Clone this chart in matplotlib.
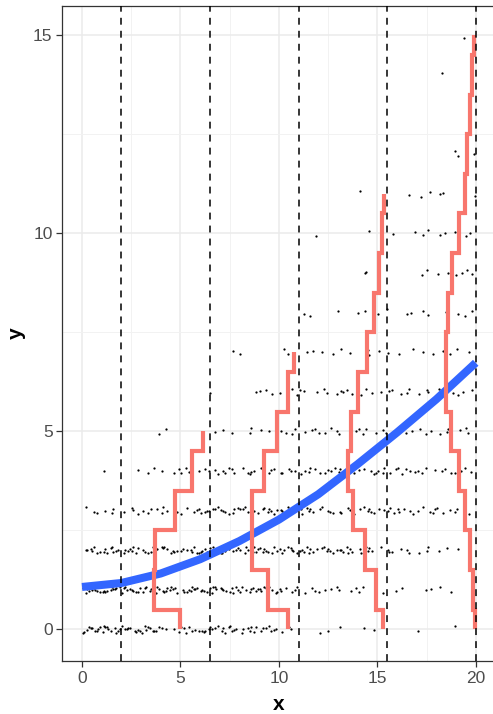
import numpy as np
import matplotlib
matplotlib.use("Agg")
import matplotlib.pyplot as plt

plt.rcParams["font.family"] = ["Liberation Sans", "DejaVu Sans"]

# ---- observed counts: points per unit-wide x bin (0-1, 1-2, ..., 19-20) at each count level
bin_edges = list(range(0, 21))
counts_y0 = [10, 10, 9, 9, 4, 7, 8, 8, 7, 7, 3, 0, 2, 1, 2, 0, 0, 1, 1, 0]
counts_y1 = [10, 10, 10, 9, 9, 9, 9, 9, 8, 8, 6, 3, 4, 3, 3, 2, 1, 2, 2, 0]
counts_y2 = [7, 8, 8, 8, 8, 8, 8, 8, 8, 8, 8, 8, 7, 7, 6, 4, 3, 3, 2, 1]
counts_y3 = [3, 3, 4, 4, 5, 5, 7, 7, 7, 7, 7, 6, 5, 5, 6, 5, 5, 5, 4, 2]
counts_y4 = [0, 1, 1, 2, 3, 4, 4, 5, 5, 5, 5, 5, 5, 5, 5, 5, 5, 4, 4, 3]
counts_y5 = [0, 0, 0, 1, 1, 0, 1, 2, 2, 3, 4, 3, 4, 3, 4, 3, 4, 3, 4, 3]
counts_y6 = [0, 0, 0, 0, 0, 0, 1, 0, 1, 3, 3, 3, 3, 4, 3, 3, 3, 3, 3, 3]
counts_y7 = [0, 0, 0, 0, 0, 0, 0, 1, 1, 0, 2, 2, 2, 2, 2, 2, 2, 2, 2, 2]

# ---- sparse upper levels: individual x positions
x_y8 = [11.3, 11.6, 13.0, 14.0, 14.4, 15.06, 15.5, 16.5, 16.7, 17.3, 17.6, 18.5, 18.6, 19.1, 19.45, 19.8]
x_y9 = [14.35, 14.45, 17.25, 17.5, 18.1, 18.6, 18.8, 19.0, 19.3, 19.55, 19.8]
x_y10 = [11.9, 14.6, 15.8, 16.9, 17.3, 17.6, 18.2, 18.45, 18.95, 19.5, 19.7]
x_y11 = [14.1, 16.6, 17.2, 17.7, 18.2, 18.35, 19.95]
x_y12 = [18.95, 19.1, 19.9]
x_y14 = [18.3]
x_y15 = [19.4]

# ---- fitted mean curve
curve_x = [0, 2, 4, 6, 8, 10, 12, 14, 16, 18, 20]
curve_y = [1.07, 1.17, 1.41, 1.77, 2.23, 2.77, 3.41, 4.17, 4.97, 5.81, 6.73]

# ---- group boundaries and scaled distributions hanging from them
cut_points = [2, 6.5, 11, 15.5, 20]
dist_base = [6.5, 11, 15.5, 20]
dist_width_1 = [1.5, 2.86, 2.8, 1.8, 0.9, 0.35]
dist_width_2 = [0.53, 1.57, 2.36, 2.35, 1.77, 1.08, 0.56, 0.25]
dist_width_3 = [0.2, 0.57, 1.12, 1.75, 2.0, 1.83, 1.5, 1.04, 0.65, 0.42, 0.28, 0.18]
dist_width_4 = [0.05, 0.14, 0.27, 0.52, 0.86, 1.28, 1.5, 1.53, 1.4, 1.2, 0.86, 0.57, 0.42, 0.28, 0.18, 0.08]

# ---- build jittered point cloud (fixed placement pattern, no randomness)
frac = [0.52, 0.11, 0.83, 0.34, 0.67, 0.05, 0.93, 0.27, 0.45, 0.74, 0.18, 0.60]
jit = [0.04, -0.06, 0.01, 0.07, -0.03, -0.08, 0.05, -0.01, 0.03, -0.05, 0.08, -0.04, 0.0]

px, py = [], []
k = 0
all_counts = [counts_y0, counts_y1, counts_y2, counts_y3,
              counts_y4, counts_y5, counts_y6, counts_y7]
for level, row in enumerate(all_counts):
    for b, n in enumerate(row):
        lo = bin_edges[b]
        for i in range(n):
            f = frac[(i + 3 * level + b) % len(frac)]
            px.append(lo + f)
            py.append(level + jit[k % len(jit)])
            k += 1
for level, xs in [(8, x_y8), (9, x_y9), (10, x_y10), (11, x_y11),
                  (12, x_y12), (14, x_y14), (15, x_y15)]:
    for x in xs:
        px.append(x)
        py.append(level + jit[k % len(jit)])
        k += 1

fig = plt.figure(figsize=(4.93, 7.14), dpi=100)
ax = fig.add_axes([0.1264, 0.0742, 0.8785, 0.918])

ax.scatter(px, py, s=2.6, color="black", linewidths=0, zorder=2)
ax.plot(curve_x, curve_y, color="#3366FF", lw=5.8, solid_capstyle="butt",
        solid_joinstyle="round", zorder=3)

for base, widths in zip(dist_base, [dist_width_1, dist_width_2, dist_width_3, dist_width_4]):
    n = len(widths)
    edges = [0] + [i + 0.5 for i in range(n - 1)] + [n - 1]
    xs = [base - w for w in widths]
    ax.stairs(xs, edges, orientation="horizontal", baseline=None,
              color="#F8766D", lw=3.0, zorder=4)

for c in cut_points:
    ax.axvline(c, color="black", lw=1.1, ls=(0, (4.5, 4)), zorder=5)

ax.set_xlim(-1, 21)
ax.set_ylim(-0.8, 15.75)
ax.set_xticks([0, 5, 10, 15, 20])
ax.set_yticks([0, 5, 10, 15])
ax.set_xticks([2.5, 7.5, 12.5, 17.5], minor=True)
ax.set_yticks([2.5, 7.5, 12.5], minor=True)
ax.grid(which="major", color="#EBEBEB", lw=1.1)
ax.grid(which="minor", color="#F2F2F2", lw=0.7)
ax.set_axisbelow(True)
ax.tick_params(which="major", length=4, width=0.9, color="#333333",
               labelcolor="#4D4D4D", labelsize=12.5, pad=3)
ax.tick_params(which="minor", length=0)
for sp in ax.spines.values():
    sp.set_color("#333333")
    sp.set_linewidth(0.9)
ax.spines["right"].set_visible(False)

fig.text(278.9 / 493, 1 - 705 / 714, "x", ha="center", va="center",
         fontsize=15, fontweight="bold")
fig.text(16 / 493, 1 - 333 / 714, "y", ha="center", va="center",
         fontsize=15, fontweight="bold", rotation=90)

fig.savefig("out.png", dpi=100)
